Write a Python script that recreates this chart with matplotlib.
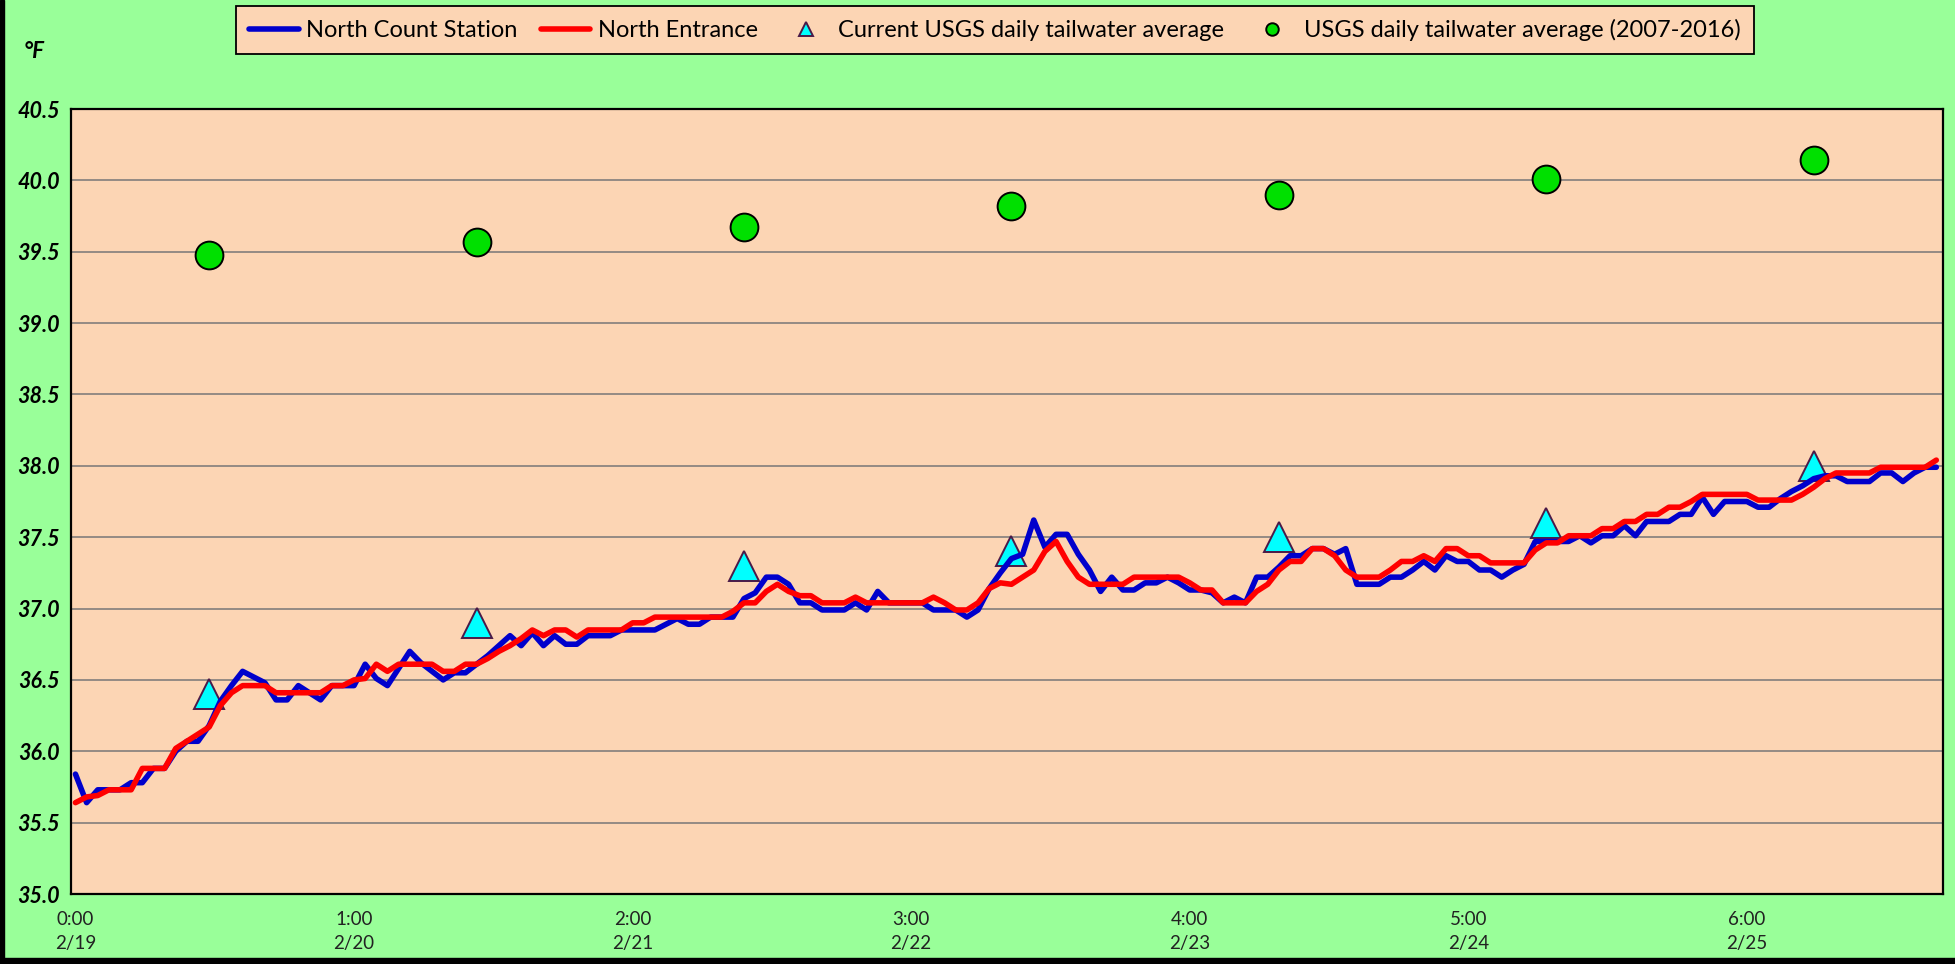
import numpy as np
import matplotlib
matplotlib.use('Agg')
import matplotlib.pyplot as plt
from matplotlib.patches import Rectangle

plt.rcParams['font.family'] = ['Lato', 'DejaVu Sans']

# hourly readings starting 2/19 0:00 (deg F)
north_count = [
    35.84, 35.64, 35.73, 35.73, 35.73, 35.78, 35.78, 35.88, 35.88, 36.00,
    36.07, 36.07, 36.18, 36.35, 36.46, 36.56, 36.52, 36.48, 36.36, 36.36,
    36.46, 36.41, 36.36, 36.46, 36.46, 36.46, 36.61, 36.51, 36.46, 36.58,
    36.70, 36.62, 36.56, 36.50, 36.55, 36.55, 36.61, 36.67, 36.74, 36.81,
    36.74, 36.83, 36.74, 36.81, 36.75, 36.75, 36.81, 36.81, 36.81, 36.85,
    36.85, 36.85, 36.85, 36.89, 36.93, 36.89, 36.89, 36.94, 36.94, 36.94,
    37.07, 37.11, 37.22, 37.22, 37.17, 37.04, 37.04, 36.99, 36.99, 36.99,
    37.04, 36.99, 37.12, 37.04, 37.04, 37.04, 37.04, 36.99, 36.99, 36.99,
    36.94, 36.99, 37.14, 37.25, 37.35, 37.38, 37.62, 37.43, 37.52, 37.52,
    37.38, 37.27, 37.12, 37.22, 37.13, 37.13, 37.18, 37.18, 37.22, 37.18,
    37.13, 37.13, 37.11, 37.04, 37.08, 37.04, 37.22, 37.22, 37.29, 37.37,
    37.37, 37.42, 37.42, 37.38, 37.42, 37.17, 37.17, 37.17, 37.22, 37.22,
    37.27, 37.33, 37.27, 37.37, 37.33, 37.33, 37.27, 37.27, 37.22, 37.27,
    37.31, 37.47, 37.47, 37.47, 37.47, 37.51, 37.46, 37.51, 37.51, 37.58,
    37.51, 37.61, 37.61, 37.61, 37.66, 37.66, 37.78, 37.66, 37.75, 37.75,
    37.75, 37.71, 37.71, 37.77, 37.82, 37.86, 37.91, 37.93, 37.93, 37.89,
    37.89, 37.89, 37.95, 37.95, 37.89, 37.95, 37.99, 37.99]

north_entrance = [
    35.64, 35.68, 35.69, 35.73, 35.73, 35.73, 35.88, 35.88, 35.88, 36.02,
    36.07, 36.12, 36.17, 36.32, 36.41, 36.46, 36.46, 36.46, 36.41, 36.41,
    36.41, 36.41, 36.41, 36.46, 36.46, 36.50, 36.51, 36.61, 36.56, 36.61,
    36.61, 36.61, 36.61, 36.56, 36.56, 36.61, 36.61, 36.65, 36.70, 36.74,
    36.79, 36.85, 36.81, 36.85, 36.85, 36.80, 36.85, 36.85, 36.85, 36.85,
    36.90, 36.90, 36.94, 36.94, 36.94, 36.94, 36.94, 36.94, 36.94, 36.98,
    37.04, 37.04, 37.12, 37.17, 37.12, 37.09, 37.09, 37.04, 37.04, 37.04,
    37.08, 37.04, 37.04, 37.04, 37.04, 37.04, 37.04, 37.08, 37.04, 36.99,
    36.99, 37.04, 37.14, 37.18, 37.17, 37.22, 37.27, 37.40, 37.47, 37.33,
    37.22, 37.17, 37.17, 37.17, 37.17, 37.22, 37.22, 37.22, 37.22, 37.22,
    37.18, 37.13, 37.13, 37.04, 37.04, 37.04, 37.12, 37.17, 37.27, 37.33,
    37.33, 37.42, 37.42, 37.37, 37.27, 37.22, 37.22, 37.22, 37.27, 37.33,
    37.33, 37.37, 37.33, 37.42, 37.42, 37.37, 37.37, 37.32, 37.32, 37.32,
    37.32, 37.41, 37.46, 37.46, 37.51, 37.51, 37.51, 37.56, 37.56, 37.61,
    37.61, 37.66, 37.66, 37.71, 37.71, 37.75, 37.80, 37.80, 37.80, 37.80,
    37.80, 37.76, 37.76, 37.76, 37.76, 37.80, 37.85, 37.91, 37.95, 37.95,
    37.95, 37.95, 37.99, 37.99, 37.99, 37.99, 37.99, 38.04]

# daily values plotted at noon of each day (hours from start)
usgs_hours = [12, 36, 60, 84, 108, 132, 156]
usgs_current = [36.4, 36.9, 37.3, 37.4, 37.5, 37.6, 38.0]
usgs_avg = [39.48, 39.57, 39.67, 39.82, 39.90, 40.01, 40.14]

tick_hours = [0, 25, 50, 75, 100, 125, 150]
tick_labels = ['0:00\n2/19', '1:00\n2/20', '2:00\n2/21', '3:00\n2/22',
               '4:00\n2/23', '5:00\n2/24', '6:00\n2/25']
yticks = np.arange(35.0, 40.51, 0.5)

W, H = 1955, 964
fig = plt.figure(figsize=(W / 100, H / 100), dpi=100, facecolor='#99FF99')
ax = fig.add_axes([71 / W, 1 - 894 / H, (1943 - 71) / W, (894 - 109) / H])
ax.set_facecolor('#FCD5B4')

hours = np.arange(len(north_count))
l1, = ax.plot(hours, north_count, color='#0000CC', lw=4.0,
              solid_capstyle='round', solid_joinstyle='round', zorder=3,
              label='North Count Station')
l2, = ax.plot(hours, north_entrance, color='#FF0000', lw=4.0,
              solid_capstyle='round', solid_joinstyle='round', zorder=4,
              label='North Entrance')
s1, = ax.plot(usgs_hours, usgs_current, ls='none', marker='^', ms=22,
              mfc='#00FFFF', mec='#4A1A48', mew=1.4, zorder=2,
              label='Current USGS daily tailwater average')
s2, = ax.plot(usgs_hours, usgs_avg, ls='none', marker='o', ms=20,
              mfc='#00E000', mec='black', mew=1.4, zorder=5,
              label='USGS daily tailwater average (2007-2016)')

ax.set_xlim(-0.4, 167.6)
ax.set_ylim(35.0, 40.5)
ax.set_yticks(yticks, labels=['%.1f' % v for v in yticks],
              fontsize=15.5, fontweight='bold', fontstyle='italic')
ax.set_xticks(tick_hours, labels=tick_labels, fontsize=13.5, color='#222222',
              linespacing=1.5)
ax.tick_params(axis='both', length=0)
ax.tick_params(axis='y', pad=8)
ax.tick_params(axis='x', pad=12)
ax.grid(axis='y', color='#777777', lw=1.1)
ax.set_axisbelow(True)
for sp in ax.spines.values():
    sp.set_color('black')
    sp.set_linewidth(1.6)

fig.text(34 / W, 1 - 51 / H, '°F', fontsize=16, fontweight='bold',
         fontstyle='italic', ha='center', va='center')

leg = fig.legend(handles=[l1, l2, s1, s2], loc='upper center',
                 bbox_to_anchor=(995 / W, 1 - 6 / H), ncol=4, fontsize=17,
                 frameon=True, fancybox=False, edgecolor='black',
                 facecolor='#FCD5B4', framealpha=1, handlelength=2.1,
                 handletextpad=0.3, columnspacing=1.0, borderpad=0.55,
                 borderaxespad=0, markerscale=0.45)
leg.get_frame().set_linewidth(1.3)

# black frame strips on the left and bottom edges of the picture
fig.add_artist(Rectangle((0, 0), 4 / W, 1, transform=fig.transFigure,
                         color='black', zorder=10))
fig.add_artist(Rectangle((0, 0), 1, 6 / H, transform=fig.transFigure,
                         color='black', zorder=10))

fig.savefig('out.png', dpi=100, facecolor=fig.get_facecolor())
